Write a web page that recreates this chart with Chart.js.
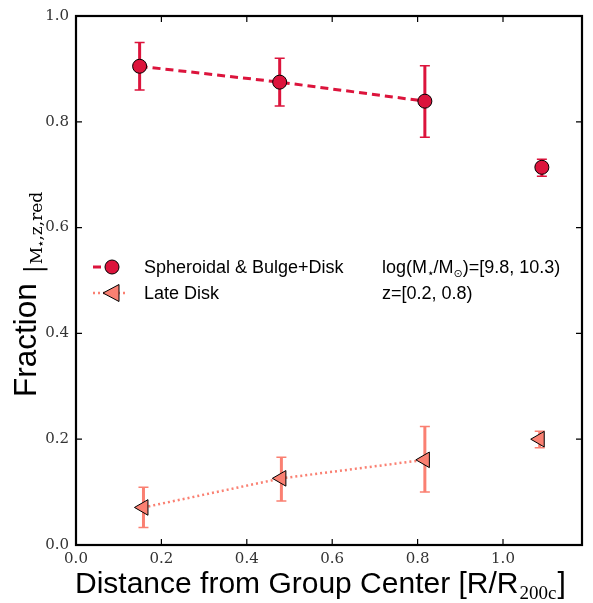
<!DOCTYPE html>
<html>
<head>
<meta charset="utf-8">
<script src="https://cdn.jsdelivr.net/npm/chart.js@4"></script>
<style>
  html, body { margin: 0; padding: 0; background: #fff; }
</style>
</head>
<body>
<canvas id="chart" width="593" height="603"></canvas>
<script>
// values
const sphX = [0.149, 0.477, 0.817, 1.091];
const sphY = [0.905, 0.875, 0.839, 0.714];
const sphLow = [0.860, 0.830, 0.771, 0.697];
const sphHigh = [0.950, 0.920, 0.906, 0.729];

const lateX = [0.158, 0.481, 0.817, 1.086];
const lateY = [0.071, 0.126, 0.161, 0.200];
const lateLow = [0.033, 0.083, 0.100, 0.184];
const lateHigh = [0.109, 0.166, 0.224, 0.215];

const seriesNames = ['Spheroidal & Bulge+Disk', 'Late Disk'];
const xTicks = [0.0, 0.2, 0.4, 0.6, 0.8, 1.0];
const yTicks = [0.0, 0.2, 0.4, 0.6, 0.8, 1.0];

const RED = '#DC143C';
const SALMON = '#FA8072';
const SANS = '"Liberation Sans", Arial, sans-serif';
const SERIF = '"DejaVu Serif", "Liberation Serif", serif';
const SUBSERIF = '"Liberation Serif", serif';
const STAR = '"DejaVu Sans", sans-serif';

const toPoints = (xs, ys, lo, hi) => xs.map((x, i) => ({ x: x, y: ys[i], lo: lo[i], hi: hi[i] }));

// last point is not joined to the others
const hideLast = color => ctx => ctx.p1DataIndex === 3 ? 'rgba(0,0,0,0)' : color;

const errorBars = {
    id: 'errorBars',
    beforeDatasetsDraw(chart) {
        const { ctx, scales: { x, y } } = chart;
        chart.data.datasets.forEach(ds => {
            ctx.save();
            ctx.strokeStyle = ds.errColor;
            ctx.lineWidth = 3;
            ds.data.forEach(p => {
                const px = x.getPixelForValue(p.x);
                const top = y.getPixelForValue(p.hi);
                const bot = y.getPixelForValue(p.lo);
                ctx.beginPath();
                ctx.moveTo(px, top); ctx.lineTo(px, bot);
                ctx.stroke();
                ctx.save();
                ctx.lineWidth = 1.5;
                ctx.beginPath();
                ctx.moveTo(px - 5, top); ctx.lineTo(px + 5, top);
                ctx.moveTo(px - 5, bot); ctx.lineTo(px + 5, bot);
                ctx.stroke();
                ctx.restore();
            });
            ctx.restore();
        });
    }
};

const frame = {
    id: 'frame',
    afterDraw(chart) {
        const { ctx, chartArea: a, scales: { x, y } } = chart;
        ctx.save();
        ctx.strokeStyle = '#000';
        ctx.lineWidth = 1.2;
        ctx.beginPath();
        xTicks.forEach(v => {
            const px = x.getPixelForValue(v);
            ctx.moveTo(px, a.bottom); ctx.lineTo(px, a.bottom - 6);
            ctx.moveTo(px, a.top); ctx.lineTo(px, a.top + 6);
        });
        yTicks.forEach(v => {
            const py = y.getPixelForValue(v);
            ctx.moveTo(a.left, py); ctx.lineTo(a.left + 6, py);
            ctx.moveTo(a.right, py); ctx.lineTo(a.right - 6, py);
        });
        ctx.stroke();
        ctx.lineWidth = 2.2;
        ctx.strokeRect(a.left, a.top, a.right - a.left, a.bottom - a.top);
        ctx.restore();
    }
};

const labels = {
    id: 'labels',
    afterDraw(chart) {
        const { ctx } = chart;
        ctx.save();
        ctx.fillStyle = '#000';
        ctx.textBaseline = 'alphabetic';
        ctx.textAlign = 'left';

        // x title
        let tx = 75;
        ctx.font = '30px ' + SANS;
        const main = 'Distance from Group Center [R/R';
        ctx.fillText(main, tx, 593);
        tx += ctx.measureText(main).width;
        ctx.font = '19px ' + SUBSERIF;
        ctx.fillText('200c', tx + 1, 599);
        tx += ctx.measureText('200c').width + 2;
        ctx.font = '30px ' + SANS;
        ctx.fillText(']', tx, 593);

        // y title
        ctx.save();
        ctx.translate(36, 397);
        ctx.rotate(-Math.PI / 2);
        ctx.font = '31.5px ' + SANS;
        ctx.fillText('Fraction', 0, 0);
        let u = ctx.measureText('Fraction').width + 10;
        ctx.font = '24px ' + SERIF;
        ctx.fillText('|', u, 5);
        u += ctx.measureText('|').width + 1;
        ctx.font = '17px ' + SERIF;
        ctx.fillText('M', u, 6);
        u += ctx.measureText('M').width;
        ctx.font = '13px ' + STAR;
        ctx.fillText('\u22C6', u - 1, 9);
        u += ctx.measureText('\u22C6').width - 2;
        ctx.font = '17px ' + SERIF;
        ctx.fillText(',z,red', u, 6);
        ctx.restore();

        // legend
        ctx.save();
        ctx.lineWidth = 3;
        ctx.strokeStyle = RED;
        ctx.setLineDash([8, 5]);
        ctx.beginPath(); ctx.moveTo(93, 267); ctx.lineTo(119, 267); ctx.stroke();
        ctx.setLineDash([]);
        ctx.fillStyle = RED; ctx.strokeStyle = '#000'; ctx.lineWidth = 1;
        ctx.beginPath(); ctx.arc(112, 267, 7, 0, Math.PI * 2); ctx.fill(); ctx.stroke();

        ctx.lineWidth = 2.5;
        ctx.strokeStyle = SALMON;
        ctx.setLineDash([2, 3]);
        ctx.beginPath(); ctx.moveTo(93, 293); ctx.lineTo(126, 293); ctx.stroke();
        ctx.setLineDash([]);
        ctx.fillStyle = SALMON; ctx.strokeStyle = '#000'; ctx.lineWidth = 1;
        ctx.beginPath();
        ctx.moveTo(103, 293); ctx.lineTo(119, 284.5); ctx.lineTo(119, 301.5); ctx.closePath();
        ctx.fill(); ctx.stroke();
        ctx.restore();

        ctx.font = '18px ' + SANS;
        ctx.fillStyle = '#000';
        ctx.fillText(seriesNames[0], 144, 273);
        ctx.fillText(seriesNames[1], 144, 299);

        // annotation
        let ax = 382;
        const part = (txt, font, dy, adv) => {
            ctx.font = font;
            ctx.fillText(txt, ax, 273 + dy);
            ax += ctx.measureText(txt).width + (adv || 0);
        };
        part('log(M', '18px ' + SANS, 0);
        part('\u22C6', '12px ' + STAR, 4, -1);
        part('/M', '18px ' + SANS, 0);
        part('\u2299', '11px ' + STAR, 4);
        part(')=[9.8, 10.3)', '18px ' + SANS, 0);
        ctx.font = '18px ' + SANS;
        ctx.fillText('z=[0.2, 0.8)', 382, 299);
        ctx.restore();
    }
};

const tickFont = { family: SERIF, size: 15 };

new Chart(document.getElementById('chart'), {
    type: 'scatter',
    data: {
        datasets: [{
            label: seriesNames[0],
            data: toPoints(sphX, sphY, sphLow, sphHigh),
            showLine: true,
            borderColor: RED,
            borderWidth: 3,
            borderDash: [8, 5],
            segment: { borderColor: hideLast(RED) },
            pointStyle: 'circle',
            pointRadius: 7,
            pointBackgroundColor: RED,
            pointBorderColor: '#000',
            pointBorderWidth: 1,
            errColor: RED
        }, {
            label: seriesNames[1],
            data: toPoints(lateX, lateY, lateLow, lateHigh),
            showLine: true,
            borderColor: SALMON,
            borderWidth: 2.5,
            borderDash: [2, 3],
            segment: { borderColor: hideLast(SALMON) },
            pointStyle: 'triangle',
            rotation: -90,
            pointRadius: 9,
            pointBackgroundColor: SALMON,
            pointBorderColor: '#000',
            pointBorderWidth: 1,
            errColor: SALMON
        }]
    },
    options: {
        responsive: false,
        animation: false,
        layout: { padding: { top: 14, right: 11, left: 0, bottom: 0 } },
        plugins: {
            legend: { display: false },
            tooltip: { enabled: false }
        },
        scales: {
            x: {
                type: 'linear',
                min: 0,
                max: 1.185,
                afterBuildTicks: s => { s.ticks = xTicks.map(v => ({ value: v })); },
                afterFit: s => { s.height = 58; },
                grid: { display: false, drawTicks: false },
                border: { display: false },
                ticks: { font: tickFont, color: '#333', padding: 5, callback: v => v.toFixed(1) }
            },
            y: {
                type: 'linear',
                min: 0,
                max: 1.0,
                afterBuildTicks: s => { s.ticks = yTicks.map(v => ({ value: v })); },
                afterFit: s => { s.width = 76; },
                grid: { display: false, drawTicks: false },
                border: { display: false },
                ticks: { font: tickFont, color: '#333', padding: 7, callback: v => v.toFixed(1) }
            }
        }
    },
    plugins: [errorBars, frame, labels]
});
</script>
</body>
</html>
